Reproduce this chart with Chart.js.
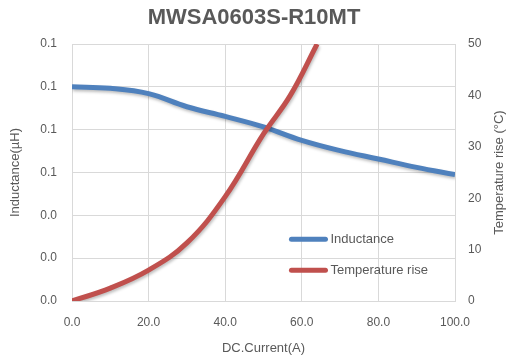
<!DOCTYPE html>
<html>
<head>
<meta charset="utf-8">
<script src="https://cdn.jsdelivr.net/npm/chart.js@4"></script>
<style>
  html, body { margin: 0; padding: 0; background: #fff; }
  #wrap { width: 508px; height: 357px; }
</style>
</head>
<body>
<div id="wrap"><canvas id="chart"></canvas></div>
<script>
// data
const currents = [0, 10, 20, 30, 40, 50, 60, 70, 80, 90, 100];
const inductance = [0.1000, 0.0993, 0.0968, 0.0907, 0.0862, 0.0813, 0.0750, 0.0702, 0.0663, 0.0624, 0.0590];
const tempCurrents = [0, 10, 20, 30, 40, 50, 57, 64];
const tempRise = [0, 2.5, 6.0, 11.3, 20.3, 32.5, 40, 50];
const xTicks = [0, 20, 40, 60, 80, 100];

const textColor = '#595959';
const gridColor = '#d9d9d9';
const blue = '#4f81bd';
const red = '#c0504d';
const fontFamily = '"Liberation Sans", Arial, sans-serif';

// legend drawn inside the plot, like the spreadsheet one
const innerLegend = {
  id: 'innerLegend',
  afterDraw(chart) {
    const { ctx, scales } = chart;
    const x0 = scales.x.getPixelForValue(57.3);
    const items = [
      { label: 'Inductance', color: blue, y: scales.y1.getPixelForValue(12) },
      { label: 'Temperature rise', color: red, y: scales.y1.getPixelForValue(6) }
    ];
    ctx.save();
    ctx.font = '13px ' + fontFamily;
    ctx.textBaseline = 'middle';
    items.forEach(it => {
      ctx.strokeStyle = it.color;
      ctx.lineWidth = 5;
      ctx.lineCap = 'round';
      ctx.beginPath();
      ctx.moveTo(x0, it.y);
      ctx.lineTo(x0 + 34, it.y);
      ctx.stroke();
      ctx.fillStyle = textColor;
      ctx.fillText(it.label, x0 + 39, it.y);
    });
    ctx.restore();
  }
};

// right axis title reads bottom to top in the reference
const rightTitle = {
  id: 'rightTitle',
  afterDraw(chart) {
    const { ctx, chartArea } = chart;
    ctx.save();
    ctx.translate(chart.width - 9, (chartArea.top + chartArea.bottom) / 2);
    ctx.rotate(-Math.PI / 2);
    ctx.font = '13px ' + fontFamily;
    ctx.fillStyle = textColor;
    ctx.textAlign = 'center';
    ctx.textBaseline = 'middle';
    ctx.fillText('Temperature rise (°C)', 0, 0);
    ctx.restore();
  }
};

// soft drop shadow under the lines
const lineShadow = {
  id: 'lineShadow',
  beforeDatasetDraw(chart) {
    const ctx = chart.ctx;
    ctx.save();
    ctx.shadowColor = 'rgba(0,0,0,0.25)';
    ctx.shadowBlur = 3;
    ctx.shadowOffsetX = 1;
    ctx.shadowOffsetY = 2;
  },
  afterDatasetDraw(chart) {
    chart.ctx.restore();
  }
};

const chartData = {
  datasets: [{
    label: 'Inductance',
    data: currents.map((c, i) => ({ x: c, y: inductance[i] })),
    borderColor: blue,
    borderWidth: 5,
    pointRadius: 0,
    tension: 0.4,
    yAxisID: 'y',
    order: 1
  }, {
    label: 'Temperature rise',
    data: tempCurrents.map((c, i) => ({ x: c, y: tempRise[i] })),
    borderColor: red,
    borderWidth: 5,
    pointRadius: 0,
    tension: 0.4,
    yAxisID: 'y1',
    order: 0
  }]
};

const tickFont = { family: fontFamily, size: 12 };
const titleFont = { family: fontFamily, size: 13 };

const config = {
  type: 'line',
  data: chartData,
  options: {
    responsive: true,
    maintainAspectRatio: false,
    animation: false,
    layout: { padding: 0 },
    plugins: {
      legend: { display: false },
      tooltip: { enabled: false },
      title: {
        display: true,
        text: 'MWSA0603S-R10MT',
        color: textColor,
        font: { family: fontFamily, size: 22, weight: 'bold', lineHeight: 1.2 },
        padding: { top: 5, bottom: 12.6 }
      }
    },
    scales: {
      x: {
        type: 'linear',
        min: 0,
        max: 100,
        afterBuildTicks: axis => { axis.ticks = xTicks.map(v => ({ value: v })); },
        afterFit: axis => { axis.height = 56; },
        grid: { color: gridColor, drawTicks: false },
        border: { color: gridColor },
        ticks: { color: textColor, font: tickFont, padding: 14, maxRotation: 0, callback: v => v.toFixed(1) },
        title: { display: true, text: 'DC.Current(A)', color: textColor, font: titleFont, padding: { bottom: 1 } }
      },
      y: {
        position: 'left',
        min: 0,
        max: 0.12,
        ticks: { stepSize: 0.02, color: textColor, font: tickFont, padding: 15, callback: v => v.toFixed(1) },
        afterFit: axis => { axis.width = 72; },
        grid: { color: gridColor, drawTicks: false },
        border: { color: gridColor },
        title: { display: true, text: 'Inductance(µH)', color: textColor, font: titleFont, padding: { top: 8 } }
      },
      y1: {
        position: 'right',
        min: 0,
        max: 50,
        ticks: { stepSize: 10, color: textColor, font: tickFont, padding: 13 },
        afterFit: axis => { axis.width = 53; },
        grid: { display: false, drawTicks: false },
        border: { display: false },
        title: { display: false }
      }
    }
  },
  plugins: [lineShadow, innerLegend, rightTitle]
};

window.addEventListener('DOMContentLoaded', () => {
  const ctx = document.getElementById('chart').getContext('2d');
  new Chart(ctx, config);
});
</script>
</body>
</html>
